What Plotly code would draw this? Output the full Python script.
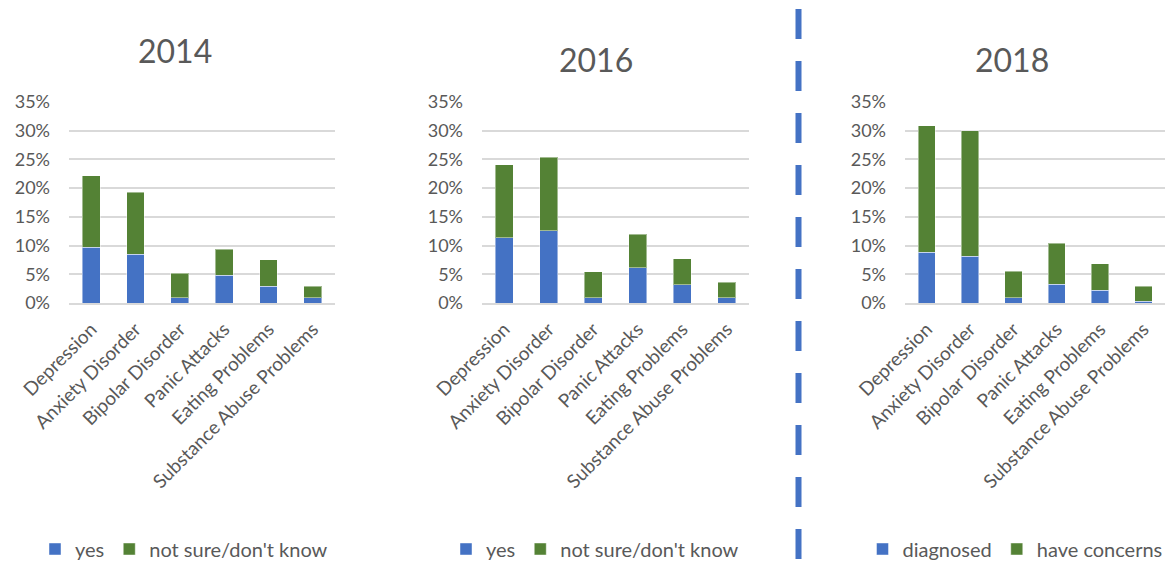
import plotly.graph_objects as go

categories = ["Depression", "Anxiety Disorder", "Bipolar Disorder", "Panic Attacks",
              "Eating Problems", "Substance Abuse Problems"]

years = ["2014", "2016", "2018"]

# 2014
yes_2014 = [0.097, 0.085, 0.009, 0.048, 0.029, 0.009]
total_2014 = [0.222, 0.193, 0.052, 0.094, 0.075, 0.029]
# 2016
yes_2016 = [0.114, 0.126, 0.009, 0.061, 0.032, 0.009]
total_2016 = [0.241, 0.254, 0.054, 0.120, 0.077, 0.036]
# 2018
diagnosed_2018 = [0.088, 0.081, 0.009, 0.033, 0.022, 0.003]
total_2018 = [0.309, 0.300, 0.055, 0.104, 0.068, 0.029]

series_names = [("yes", "not sure/don't know"),
                ("yes", "not sure/don't know"),
                ("diagnosed", "have concerns")]
lower_vals = [yes_2014, yes_2016, diagnosed_2018]
totals = [total_2014, total_2016, total_2018]

BLUE = "#4472C4"
GREEN = "#548235"
GRID = "#D9D9D9"
TXT = "#595959"
FONT = "Lato"

W, H = 1166, 563
def px(x):
    return x / W
def py(y):
    return 1 - y / H

x_domains = [(69, 335), (482, 749), (905, 1165)]
y_top, y_bot = 102, 303
title_pos = [(175, 51), (596, 60), (1012, 60)]
legend_centers = [184, 595, 1015]

fig = go.Figure()

for i in range(3):
    ax = "" if i == 0 else str(i + 1)
    lg = "legend" if i == 0 else "legend" + str(i + 1)
    lower = lower_vals[i]
    upper = [round(t - l, 4) for t, l in zip(totals[i], lower)]
    fig.add_trace(go.Bar(x=categories, y=lower, name=series_names[i][0],
                         marker=dict(color=BLUE, line=dict(color="rgba(255,255,255,0.45)", width=1)),
                         xaxis="x" + ax, yaxis="y" + ax, legend=lg, hoverinfo="skip"))
    fig.add_trace(go.Bar(x=categories, y=upper, name=series_names[i][1],
                         marker=dict(color=GREEN, line=dict(color="rgba(255,255,255,0.45)", width=1)),
                         xaxis="x" + ax, yaxis="y" + ax, legend=lg, hoverinfo="skip"))

    xa = dict(domain=[px(x_domains[i][0]), px(x_domains[i][1])], anchor="y" + ax,
              tickangle=-45, tickfont=dict(size=19, color=TXT, family=FONT),
              showgrid=False, showline=True, linecolor=GRID, linewidth=1.5,
              ticks="", ticklabelstandoff=6, automargin=False)
    ya = dict(domain=[py(y_bot), py(y_top)], anchor="x" + ax, range=[0, 0.35],
              dtick=0.05, tickformat=".0%", tickfont=dict(size=18, color=TXT, family=FONT),
              showgrid=True, gridcolor=GRID, gridwidth=1.5, zeroline=False,
              showline=False, ticks="", ticklabelstandoff=18, automargin=False)
    fig.update_layout(**{"xaxis" + ax: xa, "yaxis" + ax: ya})

    fig.add_annotation(text=years[i], x=px(title_pos[i][0]), y=py(title_pos[i][1]),
                       xref="paper", yref="paper", showarrow=False,
                       xanchor="center", yanchor="middle",
                       font=dict(size=32, color=TXT, family=FONT))

    fig.update_layout(**{lg: dict(orientation="h", x=px(legend_centers[i]), y=py(549),
                                  xanchor="center", yanchor="middle", traceorder="normal",
                                  font=dict(size=20, color=TXT, family=FONT),
                                  bgcolor="rgba(0,0,0,0)", itemwidth=30,
                                  itemclick=False, itemdoubleclick=False)})

# dashed separator
fig.add_shape(type="line", xref="paper", yref="paper",
              x0=px(798.5), x1=px(798.5), y0=py(9), y1=py(563),
              line=dict(color=BLUE, width=6, dash="30px,22px"))

fig.update_layout(width=W, height=H, margin=dict(l=0, r=0, t=0, b=0, autoexpand=False),
                  barmode="stack", bargap=0.6,
                  paper_bgcolor="white", plot_bgcolor="white",
                  font=dict(family=FONT, color=TXT), showlegend=True)

fig.write_html("out.html", config={"displayModeBar": False})
